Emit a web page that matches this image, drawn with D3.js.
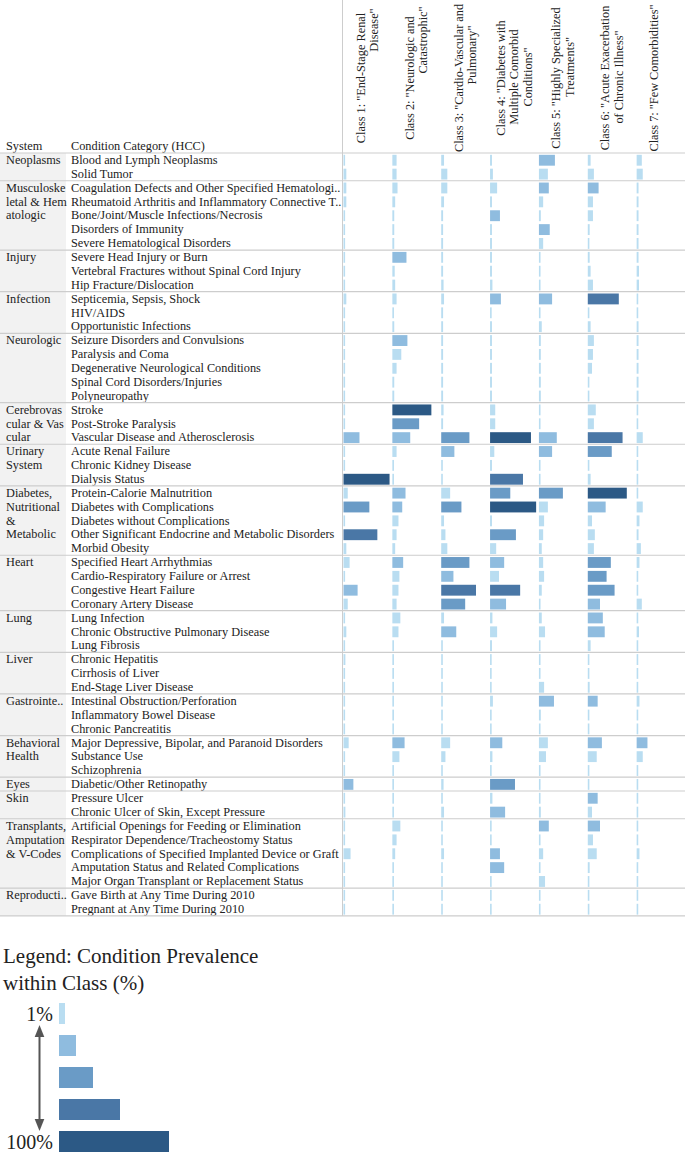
<!DOCTYPE html>
<html><head><meta charset="utf-8">
<script src="https://cdn.jsdelivr.net/npm/d3@7"></script>
<style>
body{margin:0;background:#fff}
svg{display:block}
text{font-family:"Liberation Serif","Times New Roman",serif;fill:#222}
</style>
</head><body>
<svg id="chart" width="685" height="1152"></svg>
<script>
// ---------- DATA ----------
const systemLabels = [
  ["Neoplasms"],
  ["Musculoske", "letal & Hem", "atologic"],
  ["Injury"],
  ["Infection"],
  ["Neurologic"],
  ["Cerebrovas", "cular & Vas", "cular"],
  ["Urinary", "System"],
  ["Diabetes,", "Nutritional", "&", "Metabolic"],
  ["Heart"],
  ["Lung"],
  ["Liver"],
  ["Gastrointe.."],
  ["Behavioral", "Health"],
  ["Eyes"],
  ["Skin"],
  ["Transplants,", "Amputation", "& V-Codes"],
  ["Reproducti.."]
];
const systemRowCounts = [2, 5, 3, 3, 5, 3, 3, 5, 4, 3, 3, 3, 3, 1, 2, 5, 2];
const conditions = [
  "Blood and Lymph Neoplasms",
  "Solid Tumor",
  "Coagulation Defects and Other Specified Hematologi..",
  "Rheumatoid Arthritis and Inflammatory Connective T..",
  "Bone/Joint/Muscle Infections/Necrosis",
  "Disorders of Immunity",
  "Severe Hematological Disorders",
  "Severe Head Injury or Burn",
  "Vertebral Fractures without Spinal Cord Injury",
  "Hip Fracture/Dislocation",
  "Septicemia, Sepsis, Shock",
  "HIV/AIDS",
  "Opportunistic Infections",
  "Seizure Disorders and Convulsions",
  "Paralysis and Coma",
  "Degenerative Neurological Conditions",
  "Spinal Cord Disorders/Injuries",
  "Polyneuropathy",
  "Stroke",
  "Post-Stroke Paralysis",
  "Vascular Disease and Atherosclerosis",
  "Acute Renal Failure",
  "Chronic Kidney Disease",
  "Dialysis Status",
  "Protein-Calorie Malnutrition",
  "Diabetes with Complications",
  "Diabetes without Complications",
  "Other Significant Endocrine and Metabolic Disorders",
  "Morbid Obesity",
  "Specified Heart Arrhythmias",
  "Cardio-Respiratory Failure or Arrest",
  "Congestive Heart Failure",
  "Coronary Artery Disease",
  "Lung Infection",
  "Chronic Obstructive Pulmonary Disease",
  "Lung Fibrosis",
  "Chronic Hepatitis",
  "Cirrhosis of Liver",
  "End-Stage Liver Disease",
  "Intestinal Obstruction/Perforation",
  "Inflammatory Bowel Disease",
  "Chronic Pancreatitis",
  "Major Depressive, Bipolar, and Paranoid Disorders",
  "Substance Use",
  "Schizophrenia",
  "Diabetic/Other Retinopathy",
  "Pressure Ulcer",
  "Chronic Ulcer of Skin, Except Pressure",
  "Artificial Openings for Feeding or Elimination",
  "Respirator Dependence/Tracheostomy Status",
  "Complications of Specified Implanted Device or Graft",
  "Amputation Status and Related Complications",
  "Major Organ Transplant or Replacement Status",
  "Gave Birth at Any Time During 2010",
  "Pregnant at Any Time During 2010"
];
const classHeaders = [
  ['Class 1: "End-Stage Renal', 'Disease"'],
  ['Class 2: "Neurologic and', 'Catastrophic"'],
  ['Class 3: "Cardio-Vascular and', 'Pulmonary"'],
  ['Class 4: "Diabetes with', 'Multiple Comorbid', 'Conditions"'],
  ['Class 5: "Highly Specialized', 'Treatments"'],
  ['Class 6: "Acute Exacerbation', 'of Chronic Illness"'],
  ['Class 7: "Few Comorbidities"', '']
];
// condition prevalence within class (%), one value per condition, in row order
const class1 = [2,6,6,6,2,2,2, 2,2,2, 6,2,2, 3,2,2,2,2, 2,3,34, 3,3,98, 9,55,2,72,6, 13,2,30,9, 2,6,2, 4,2,2, 2,2,2, 11,2,2, 21, 2,4, 2,2,15,2,2, 2,2];
const class2 = [9,9,11,6,4,4,4, 30,5,6, 9,3,4, 32,19,9,4,4, 83,57,38, 9,3,3, 28,21,13,9,6, 23,15,13,9, 17,13,3, 3,3,3, 3,3,3, 26,15,3, 3, 3,3, 17,9,6,3,3, 3,3];
const class3 = [6,13,13,6,4,4,4, 4,4,5, 6,4,4, 4,4,4,4,4, 5,4,60, 28,3,3, 19,43,6,9,13, 60,26,74,51, 6,32,3, 3,3,3, 3,3,3, 19,9,3, 5, 3,6, 3,3,6,3,3, 3,3];
const class4 = [4,6,15,4,21,4,4, 4,4,5, 23,3,4, 4,4,4,4,4, 11,11,87, 9,4,70, 43,98,4,55,13, 30,19,64,34, 5,15,4, 3,3,3, 6,3,3, 26,5,3, 53, 5,32, 3,3,21,30,3, 3,3];
const class5 = [34,19,21,9,4,23,9, 3,3,3, 28,3,6, 4,4,4,4,4, 3,3,38, 28,3,3, 51,19,11,9,6, 9,11,6,3, 6,13,3, 3,3,11, 32,4,3, 19,15,3, 3, 3,4, 21,3,9,3,13, 3,3];
const class6 = [6,13,23,11,11,4,3, 4,6,11, 66,2,6, 13,11,9,3,3, 17,13,74, 51,3,6, 83,38,9,15,13, 49,40,57,26, 32,36,6, 3,3,4, 21,3,3, 30,19,3, 3, 21,9, 26,11,19,4,3, 3,3];
const class7 = [11,13,4,4,4,4,4, 4,5,5, 3,3,4, 4,4,4,4,4, 3,3,13, 3,3,3, 3,13,6,4,9, 6,3,3,11, 3,5,3, 3,3,3, 6,3,3, 23,13,3, 3, 3,3, 3,3,6,3,3, 3,3];
const legendLabels = ["1%", "", "", "", "100%"];
const legendLevels = [1, 25, 50, 70, 100];

// ---------- LAYOUT ----------
const W = 685;
const tableTop = 153, rowH = 13.87;
const nRows = conditions.length;
const tableBottom = tableTop + nRows * rowH;
const sysW = 66, condX = 71, barsLeft = 343;
const classSeries = [class1, class2, class3, class4, class5, class6, class7];
const palette = ["#b9ddf1", "#8fbcdf", "#6a9bc6", "#4a77a6", "#2c5985"];
// vertical centre of the wrapped (2nd/3rd) header lines, per class column
const subLineCentre = [30, 40, 55, 77, 67, 77, 77];

const svg = d3.select("#chart");

const y = d3.scaleBand().domain(d3.range(nRows)).range([tableTop, tableBottom]);
const xCol = d3.scaleBand().domain(d3.range(classSeries.length)).range([barsLeft, W]);
const xLen = d3.scaleLinear().domain([0, 100]).range([0, 47]);
const color = d3.scaleThreshold().domain([20, 40, 62, 78]).range(palette);

// system column background
svg.append("rect").attr("x", 0).attr("y", tableTop).attr("width", sysW)
  .attr("height", tableBottom - tableTop).attr("fill", "#f2f2f2");

// header labels
svg.append("text").attr("x", 6).attr("y", 150).attr("font-size", 12.3).text("System");
svg.append("text").attr("x", condX).attr("y", 150).attr("font-size", 12.3).text("Condition Category (HCC)");

// class headers (rotated)
classHeaders.forEach((lines, ci) => {
  const cx = xCol(ci) + xCol.bandwidth() / 2;
  const n = lines.length;
  lines.forEach((ln, li) => {
    const lx = cx + (li - (n - 1) / 2) * 13.5;
    const cy = li === 0 ? 78 : subLineCentre[ci];
    svg.append("text")
      .attr("transform", `translate(${lx},${cy}) rotate(-90)`)
      .attr("text-anchor", "middle").attr("dy", "0.35em")
      .attr("font-size", 12.3).text(ln);
  });
});

// group boundaries
const starts = [];
let acc = 0;
systemRowCounts.forEach(c => { starts.push(acc); acc += c; });

// system labels
systemLabels.forEach((lines, gi) => {
  lines.forEach((ln, li) => {
    svg.append("text").attr("x", 6).attr("y", y(starts[gi] + li) + 11)
      .attr("font-size", 12.3).text(ln);
  });
});

// condition labels
svg.append("g").selectAll("text").data(conditions).join("text")
  .attr("x", condX).attr("y", (d, i) => y(i) + 11)
  .attr("font-size", 12.3).text(d => d);

// bars
classSeries.forEach((series, ci) => {
  svg.append("g").selectAll("rect").data(series).join("rect")
    .attr("x", xCol(ci) + 0.5)
    .attr("y", (d, i) => y(i) + 1.8)
    .attr("width", d => Math.max(1.6, xLen(d)))
    .attr("height", rowH - 3)
    .attr("fill", d => color(d));
});

// separators
const lineYs = starts.map(s => y(s)).concat([tableBottom]);
svg.append("g").selectAll("line").data(lineYs).join("line")
  .attr("x1", 0).attr("x2", W).attr("y1", d => d).attr("y2", d => d)
  .attr("stroke", "#cdcdcd").attr("stroke-width", 1.2);
svg.append("line").attr("x1", barsLeft - 0.5).attr("x2", barsLeft - 0.5)
  .attr("y1", 0).attr("y2", tableBottom).attr("stroke", "#cdcdcd").attr("stroke-width", 1);

// ---------- LEGEND ----------
svg.append("text").attr("x", 3).attr("y", 963).attr("font-size", 21).text("Legend: Condition Prevalence");
svg.append("text").attr("x", 3).attr("y", 990).attr("font-size", 21).text("within Class (%)");

const legendW = d3.scaleOrdinal().domain(legendLevels).range([6, 17, 34, 61, 110]);
const ly = d3.scaleBand().domain(d3.range(legendLevels.length)).range([1003, 1152]).paddingInner(0.344);
svg.append("g").selectAll("rect").data(legendLevels).join("rect")
  .attr("x", 59).attr("y", (d, i) => ly(i))
  .attr("width", d => legendW(d)).attr("height", ly.bandwidth())
  .attr("fill", (d, i) => palette[i]);
svg.append("g").selectAll("text").data(legendLabels).join("text")
  .attr("x", 53).attr("y", (d, i) => ly(i) + 18)
  .attr("text-anchor", "end").attr("font-size", 20).text(d => d);

// double-headed arrow
const defs = svg.append("defs");
defs.append("marker").attr("id", "ah").attr("viewBox", "0 0 10 10")
  .attr("refX", 5).attr("refY", 5).attr("markerWidth", 6).attr("markerHeight", 6)
  .attr("orient", "auto-start-reverse")
  .append("path").attr("d", "M0,1 L10,5 L0,9 Z").attr("fill", "#555");
svg.append("line").attr("x1", 39.5).attr("x2", 39.5).attr("y1", 1031).attr("y2", 1125)
  .attr("stroke", "#555").attr("stroke-width", 2)
  .attr("marker-start", "url(#ah)").attr("marker-end", "url(#ah)");
</script>
</body></html>
